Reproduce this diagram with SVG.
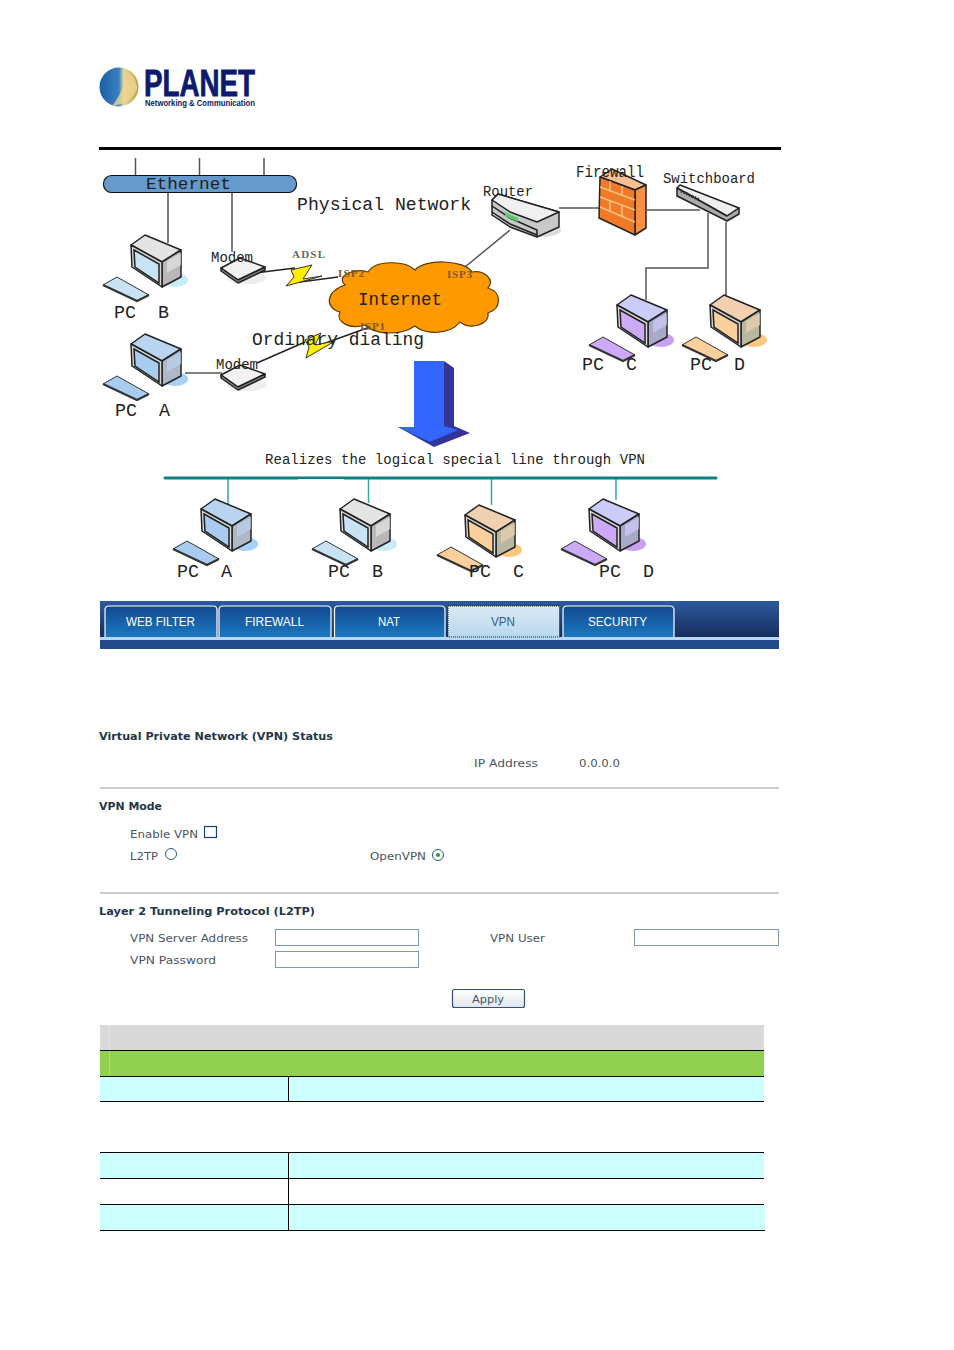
<svg xmlns="http://www.w3.org/2000/svg" width="954" height="1350" viewBox="0 0 954 1350">
<style>
text{font-family:"Liberation Sans",Arial,sans-serif}
.m{font-family:"Liberation Mono","DejaVu Sans Mono",monospace;fill:#222;white-space:pre}
.isp{font-family:"Liberation Serif",serif;font-size:11px;font-weight:bold;fill:#7a5a30}
.tab{font-size:12px;fill:#fff;text-anchor:start}
.f{font-family:"DejaVu Sans",Verdana,sans-serif;font-size:11px;fill:#4a5560}
.h{font-family:"DejaVu Sans",Verdana,sans-serif;font-size:11px;font-weight:bold;fill:#23364a}
.wire{fill:none;stroke:#555;stroke-width:1.5}
.teal{fill:none;stroke:#3aa5a5;stroke-width:1.5}
.hr{stroke:#ccc;stroke-width:2}
.inp{fill:#fff;stroke:#7d97b5;stroke-width:1}
.tl{stroke:#000;stroke-width:1;fill:none}
.ol{stroke:#222;stroke-width:1.5;stroke-linejoin:round}
</style>
<defs>
<linearGradient id="tabG" x1="0" y1="0" x2="0" y2="1"><stop offset="0" stop-color="#134a8f"/><stop offset="1" stop-color="#1a78c0"/></linearGradient>
<linearGradient id="tabA" x1="0" y1="0" x2="0" y2="1"><stop offset="0" stop-color="#dbe9f3"/><stop offset="1" stop-color="#b9d8ee"/></linearGradient>
<linearGradient id="navG" x1="0" y1="0" x2="0" y2="1"><stop offset="0" stop-color="#2c5a9f"/><stop offset="1" stop-color="#172c5c"/></linearGradient>
<linearGradient id="globe" x1="0" y1="0" x2="1" y2="0"><stop offset="0" stop-color="#1a5fa8"/><stop offset="0.5" stop-color="#3a80c0"/><stop offset="0.62" stop-color="#e8d8a0"/><stop offset="1" stop-color="#c49a40"/></linearGradient>
<linearGradient id="btn" x1="0" y1="0" x2="0" y2="1"><stop offset="0" stop-color="#fff"/><stop offset="1" stop-color="#dfe6ee"/></linearGradient>
<g id="pc">
<ellipse cx="30" cy="45" rx="13" ry="7" style="fill:var(--s)"/>
<path class="ol" d="M-14 10L0 0L36 15L17 27Z" style="fill:var(--t)"/>
<path class="ol" d="M36 15V42L17 52V27Z" style="fill:var(--r)"/>
<path d="M22 26L36 18V30L22 38Z" style="fill:var(--t)" opacity=".7"/>
<path class="ol" d="M-14 10L17 27V52L-13 32Z" fill="#d8d8d8"/>
<path d="M-11 15L14 29V48L-10 32Z" stroke="#222" stroke-width="1.5" style="fill:var(--v)"/>
<path d="M-42 50L-28 42L4 60L-8 66Z" style="fill:var(--v)" stroke="#333" stroke-width="1"/>
<path d="M-42 50L-8 66L4 60" fill="none" stroke="#333" stroke-width="2.2"/>
</g>
<g id="modem">
<ellipse cx="26" cy="10" rx="20" ry="6" fill="#eee"/>
<path class="ol" d="M0 0L19 -10L44 -1L17 12Z" fill="#f2f2f2"/>
<path class="ol" d="M0 0V3L17 15L44 2V-1L17 12Z" fill="#888"/>
</g>
</defs>

<g id="logo">
<circle cx="119" cy="87" r="19.5" fill="url(#globe)"/>
<path d="M122 69Q132 72 124 84Q120 96 112 106Q130 104 137 90Q138 76 122 69Z" fill="#eed690" opacity=".8"/>
<text x="144" y="96" font-size="37" font-weight="bold" fill="#0d1a6e" stroke="#0d1a6e" stroke-width=".8" textLength="111" lengthAdjust="spacingAndGlyphs">PLANET</text>
<text x="145" y="106" font-size="9" font-weight="bold" fill="#0d1a5a" textLength="110" lengthAdjust="spacingAndGlyphs">Networking &amp; Communication</text>
</g>
<rect id="rule" x="99" y="147" width="682" height="3" fill="#000"/>

<g id="connectors">
<path class="wire" d="M135.500 158V176M199.500 158V176M264 158V176M168 193V243M232 193V252M185 373H222M559 208H600M647 210H700M708 213V268H646V300M726 222V295M510 230L465 267"/>
<path d="M255 273L295 268M300 282L338 277M257 363L305 342M320 345L370 327" fill="none" stroke="#222" stroke-width="1.5"/>
<path class="teal" d="M228 478V505M368.500 478V503M491.500 478V505M616 478V500"/>
</g>

<g id="ethernet">
<rect x="103.500" y="175.500" width="193" height="17" rx="8" fill="#6699cc" stroke="#111" stroke-width="1.2"/>
<text class="m" x="146" y="189" font-size="17" textLength="85" lengthAdjust="spacingAndGlyphs">Ethernet</text>
</g>
<text id="physical" class="m" x="297" y="210" font-size="18" textLength="174" lengthAdjust="spacingAndGlyphs">Physical Network</text>

<g id="pc-b"><use href="#pc" x="145" y="235" style="--s:#c8ecf8;--t:#e4e4e4;--r:#b8b8b8;--v:#c8e4f4"/><text class="m" x="114" y="318" font-size="18" textLength="55" lengthAdjust="spacingAndGlyphs">PC  B</text></g>
<g id="pc-a"><use href="#pc" x="145" y="334" style="--s:#a8d0f4;--t:#b8d4f0;--r:#b0b8c8;--v:#a8ccf0"/><text class="m" x="115" y="416" font-size="18" textLength="55" lengthAdjust="spacingAndGlyphs">PC  A</text></g>
<g id="modem-1"><use href="#modem" x="221" y="268"/><text class="m" x="211" y="262" font-size="14" textLength="42" lengthAdjust="spacingAndGlyphs">Modem</text></g>
<g id="modem-2"><use href="#modem" x="221" y="375"/><text class="m" x="216" y="369" font-size="14" textLength="42" lengthAdjust="spacingAndGlyphs">Modem</text></g>

<g id="internet">
<path d="M345 285C335 275 355 268 368 272C375 260 405 260 415 270C425 258 465 260 472 272C485 270 495 280 488 288C502 292 502 308 488 313C490 325 470 330 460 322C450 335 425 335 415 326C400 336 375 335 365 325C350 330 335 322 340 312C325 308 325 292 345 285Z" fill="#ff9900" stroke="#5a3a00" stroke-width="1.200"/>
<text class="m" x="358" y="305" font-size="18" textLength="84" lengthAdjust="spacingAndGlyphs">Internet</text>
<text class="isp" x="338" y="277" textLength="26">ISP2</text>
<text class="isp" x="447" y="278" textLength="25">ISP3</text>
<text class="isp" x="360" y="330" textLength="25">ISP1</text>
</g>
<g id="bolts">
<path d="M291 270L312 265L303 279L322 276L286 286L294 277Z" fill="#ffee00" stroke="#333" stroke-width="1"/>
<path d="M305 340L321 333L315 345L335 341L306 358L309 347Z" fill="#ffee00" stroke="#333" stroke-width="1"/>
<text class="isp" x="292" y="258" style="fill:#666" textLength="33">ADSL</text>
</g>
<text id="dialing" class="m" x="252" y="345" font-size="18" textLength="172" lengthAdjust="spacingAndGlyphs">Ordinary dialing</text>

<g id="router">
<ellipse cx="544" cy="230" rx="17" ry="7" fill="#ddd"/>
<path class="ol" d="M492 200L498 194L559 212V227L537 237L510 227L492 215Z" fill="#c8c8c8"/>
<path class="ol" d="M492 200L498 194L559 212L537 222L510 212Z" fill="#f0f0f0"/>
<path d="M492 206L510 218L537 230V237M492 212L510 224L537 235" fill="none" stroke="#222" stroke-width="1.500"/>
<path d="M505 212L518 218V222L505 216Z" fill="#55cc66"/>
<text class="m" x="483" y="196" font-size="14" textLength="50" lengthAdjust="spacingAndGlyphs">Router</text>
</g>
<g id="firewall">
<path class="ol" d="M600 177L612 169L646 185L635 190Z" fill="#f8c090"/>
<path class="ol" d="M646 185V228L635 235V190Z" fill="#f89040"/>
<path class="ol" d="M600 177L635 190V235L599 218Z" fill="#f07a28"/>
<path d="M600 187L635 200M600 197L635 210M600 207L635 222M610 181V192M622 186V196M610 200V211M622 205V216" fill="none" stroke="#fcc080" stroke-width="1.500"/>
<text class="m" x="576" y="177" font-size="16" textLength="68" lengthAdjust="spacingAndGlyphs">Firewall</text>
</g>
<g id="switchboard">
<path class="ol" d="M677 188L680 185L739 208L727 216Z" fill="#eee"/>
<path class="ol" d="M677 188V196L727 221L739 214V208L727 216Z" fill="#aaa"/>
<path d="M681 191L700 200" stroke="#333" stroke-width="3" stroke-dasharray="1.500 1.500"/>
<text class="m" x="663" y="183" font-size="15" textLength="92" lengthAdjust="spacingAndGlyphs">Switchboard</text>
</g>
<g id="pc-c"><use href="#pc" x="631" y="295" style="--s:#c8a0f0;--t:#ccccfa;--r:#a8a8c8;--v:#ccaaf8"/><text class="m" x="582" y="370" font-size="18" textLength="55" lengthAdjust="spacingAndGlyphs">PC  C</text></g>
<g id="pc-d"><use href="#pc" x="724" y="295" style="--s:#fcc880;--t:#f0d0b0;--r:#b8b8a0;--v:#fcd09c"/><text class="m" x="690" y="370" font-size="18" textLength="55" lengthAdjust="spacingAndGlyphs">PC  D</text></g>

<g id="arrow">
<path d="M444 361L454 368V426L470 433L434 447L398 427L414 427Z" fill="#333399"/>
<path d="M414 361H444V426L458 430L430 442L398 427H414Z" fill="#3366ff"/>
</g>
<text id="realizes" class="m" x="265" y="464" font-size="14" textLength="380" lengthAdjust="spacing">Realizes the logical special line through VPN</text>

<g id="vpn-bar">
<line x1="165" y1="478" x2="716" y2="478" stroke="#0f8080" stroke-width="3" stroke-linecap="round"/>
<line x1="298" y1="479.500" x2="344" y2="479.500" stroke="#eef" stroke-width="1"/>
</g>
<g id="v-pc-a"><use href="#pc" x="215" y="499" style="--s:#a8d0f4;--t:#b8d4f0;--r:#b0b8c8;--v:#a8ccf0"/><text class="m" x="177" y="577" font-size="18" textLength="55" lengthAdjust="spacingAndGlyphs">PC  A</text></g>
<g id="v-pc-b"><use href="#pc" x="354" y="499" style="--s:#c8ecf8;--t:#e4e4e4;--r:#b8b8b8;--v:#c8e4f4"/><text class="m" x="328" y="577" font-size="18" textLength="55" lengthAdjust="spacingAndGlyphs">PC  B</text></g>
<g id="v-pc-c"><use href="#pc" x="479" y="505" style="--s:#fcc880;--t:#f0d0b0;--r:#b8b8a0;--v:#fcd09c"/><text class="m" x="469" y="577" font-size="18" textLength="55" lengthAdjust="spacingAndGlyphs">PC  C</text></g>
<g id="v-pc-d"><use href="#pc" x="603" y="499" style="--s:#c8a0f0;--t:#ccccfa;--r:#a8a8c8;--v:#ccaaf8"/><text class="m" x="599" y="577" font-size="18" textLength="55" lengthAdjust="spacingAndGlyphs">PC  D</text></g>

<g id="nav">
<rect x="100" y="601" width="679" height="37" fill="url(#navG)"/>
<rect x="100" y="637" width="679" height="3" fill="#b8d8f0"/>
<rect x="100" y="640" width="679" height="9" fill="#224a8a"/>
<g stroke="#fff" stroke-width="1.200" fill="url(#tabG)">
<path d="M105 637V610Q105 606 109 606H213Q217 606 217 610V637"/>
<path d="M219 637V610Q219 606 223 606H327Q331 606 331 610V637"/>
<path d="M334.500 637V610Q334.500 606 338 606H441Q445 606 445 610V637"/>
<path d="M563 637V610Q563 606 567 606H670Q674 606 674 610V637"/>
</g>
<rect x="448" y="606" width="111.500" height="31" fill="url(#tabA)" stroke="#222" stroke-width="1" stroke-dasharray="1 1"/>
<text class="tab" x="126" y="626" textLength="69" lengthAdjust="spacingAndGlyphs">WEB FILTER</text>
<text class="tab" x="245" y="626" textLength="59" lengthAdjust="spacingAndGlyphs">FIREWALL</text>
<text class="tab" x="378" y="626" textLength="22" lengthAdjust="spacingAndGlyphs">NAT</text>
<text class="tab" x="491" y="626" textLength="24" lengthAdjust="spacingAndGlyphs" style="fill:#3a5a98">VPN</text>
<text class="tab" x="588" y="626" textLength="59" lengthAdjust="spacingAndGlyphs">SECURITY</text>
</g>

<g id="status">
<text class="h" x="99" y="740" textLength="234" lengthAdjust="spacingAndGlyphs">Virtual Private Network (VPN) Status</text>
<text class="f" x="474" y="767" textLength="64" lengthAdjust="spacingAndGlyphs">IP Address</text>
<text class="f" x="579" y="767" textLength="41" lengthAdjust="spacingAndGlyphs">0.0.0.0</text>
<line class="hr" x1="100" y1="788" x2="779" y2="788"/>
</g>
<g id="mode">
<text class="h" x="99" y="810" textLength="63" lengthAdjust="spacingAndGlyphs">VPN Mode</text>
<text class="f" x="130" y="838" textLength="68" lengthAdjust="spacingAndGlyphs">Enable VPN</text>
<rect x="204.500" y="826.500" width="12" height="11" fill="#fff" stroke="#1c3f74" stroke-width="1.200"/>
<text class="f" x="130" y="860" textLength="28" lengthAdjust="spacingAndGlyphs">L2TP</text>
<circle cx="171" cy="854" r="5.500" fill="#fff" stroke="#2a5a80"/>
<text class="f" x="370" y="860" textLength="56" lengthAdjust="spacingAndGlyphs">OpenVPN</text>
<circle cx="438" cy="855" r="5.500" fill="#fff" stroke="#2a5a80"/>
<circle cx="438" cy="855" r="2" fill="#2a9a40"/>
<line class="hr" x1="100" y1="893" x2="779" y2="893"/>
</g>
<g id="l2tp">
<text class="h" x="99" y="915" textLength="216" lengthAdjust="spacingAndGlyphs">Layer 2 Tunneling Protocol (L2TP)</text>
<text class="f" x="130" y="942" textLength="118" lengthAdjust="spacingAndGlyphs">VPN Server Address</text>
<rect class="inp" x="275.500" y="929.500" width="143" height="16"/>
<text class="f" x="490" y="942" textLength="55" lengthAdjust="spacingAndGlyphs">VPN User</text>
<rect class="inp" x="634.500" y="929.500" width="144" height="16"/>
<text class="f" x="130" y="964" textLength="86" lengthAdjust="spacingAndGlyphs">VPN Password</text>
<rect class="inp" x="275.500" y="951.500" width="143" height="16"/>
<rect x="452.500" y="989.500" width="72" height="18" rx="2" fill="url(#btn)" stroke="#34506e" stroke-width="1.200"/>
<text class="f" x="472" y="1003" textLength="32" lengthAdjust="spacingAndGlyphs">Apply</text>
</g>
<g id="table">
<rect x="100" y="1025" width="664" height="25" fill="#d9d9d9"/>
<rect x="100" y="1050" width="664" height="26" fill="#92d050"/>
<rect x="100" y="1076" width="664" height="25" fill="#ccffff"/>
<rect x="100" y="1152" width="664" height="26" fill="#ccffff"/>
<rect x="100" y="1204" width="665" height="26" fill="#ccffff"/>
<line x1="109.500" y1="1025" x2="109.500" y2="1075" stroke="#fff" stroke-opacity=".3"/>
<path class="tl" d="M100 1050.500H764M100 1076.500H764M100 1101.500H764M100 1152.500H764M100 1178.500H764M100 1204.500H764M100 1230.500H765M288.500 1076V1101M288.500 1152V1230"/>
</g>
</svg>
